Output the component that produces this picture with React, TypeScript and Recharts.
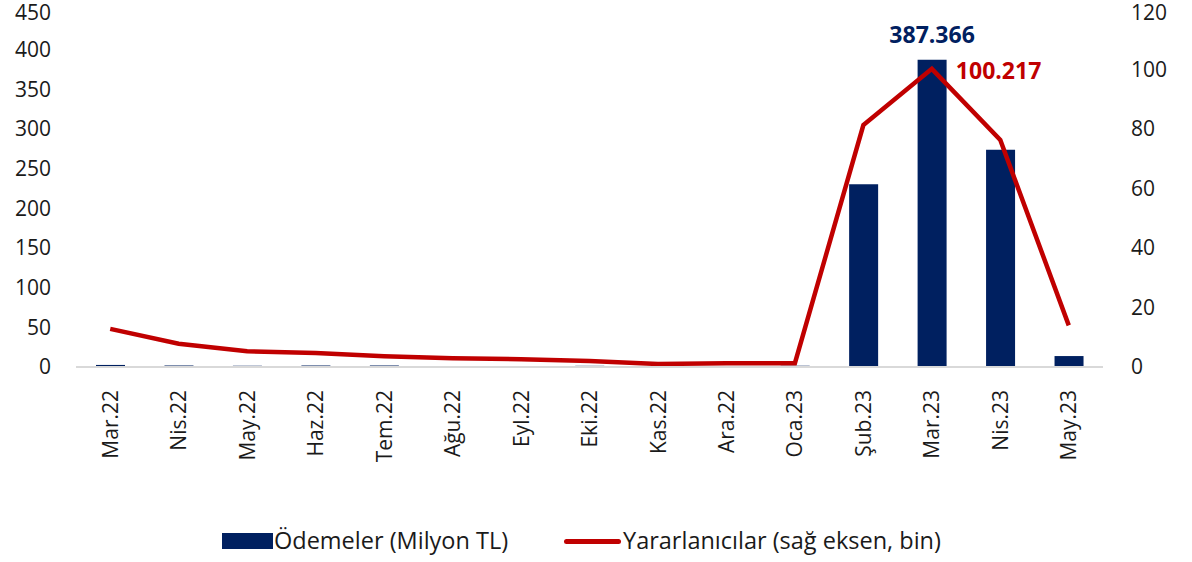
import React from "react";
import { ComposedChart, Bar, Line, XAxis, YAxis, Legend, LabelList } from "recharts";

const categories = ["Mar.22", "Nis.22", "May.22", "Haz.22", "Tem.22", "Ağu.22", "Eyl.22", "Eki.22", "Kas.22", "Ara.22", "Oca.23", "Şub.23", "Mar.23", "Nis.23", "May.23"];
const odemeler = [2.6, 1.9, 1.5, 1.9, 1.9, 1.2, 1.2, 1.5, 1.1, 1.1, 1.6, 230.5, 387.366, 273.8, 13.8];
const yararlanicilar = [12.8, 7.8, 5.3, 4.7, 3.6, 2.9, 2.6, 2.0, 1.0, 1.3, 1.3, 81.3, 100.217, 76.3, 14.0];
const leftTicks = [0, 50, 100, 150, 200, 250, 300, 350, 400, 450];
const rightTicks = [0, 20, 40, 60, 80, 100, 120];
const barLabels = ["", "", "", "", "", "", "", "", "", "", "", "", "387.366", "", ""];
const lineLabels = ["", "", "", "", "", "", "", "", "", "", "", "", "100.217", "", ""];

const data = categories.map((c, i) => ({
  name: c,
  odeme: odemeler[i],
  yarar: yararlanicilar[i],
  barLabel: barLabels[i],
  lineLabel: lineLabels[i],
}));

const FONT = "'Open Sans', sans-serif";
const NAVY = "#002060";
const RED = "#C00000";

const XTick = (props: any) => {
  const { x, y, payload } = props;
  return (
    <text
      transform={`translate(${x},${y + 15}) rotate(-90)`}
      textAnchor="end"
      dy="0.36em"
      fontFamily={FONT}
      fontSize={21}
      fill="#1a1a1a"
    >
      {payload.value}
    </text>
  );
};

const BarLabel = (props: any) => {
  const { x, y, width, value } = props;
  if (!value) return null;
  return (
    <text x={x + width / 2} y={y - 17} textAnchor="middle" fontFamily={FONT} fontSize={23} fontWeight={700} fill={NAVY}>
      {value}
    </text>
  );
};

const LineLabel = (props: any) => {
  const { x, y, value } = props;
  if (!value) return null;
  return (
    <text x={x + 24} y={y + 10} textAnchor="start" fontFamily={FONT} fontSize={23} fontWeight={700} fill={RED}>
      {value}
    </text>
  );
};

const LegendContent = () => (
  <div style={{ position: "relative", height: 50, fontFamily: FONT, fontSize: 23.5, color: "#1a1a1a" }}>
    <div style={{ position: "absolute", left: 222, top: 21, width: 51, height: 16, background: NAVY }} />
    <div style={{ position: "absolute", left: 274, top: 13, whiteSpace: "nowrap", lineHeight: "30px" }}>Ödemeler (Milyon TL)</div>
    <div style={{ position: "absolute", left: 564, top: 27, width: 57, height: 5, borderRadius: 3, background: RED }} />
    <div style={{ position: "absolute", left: 623, top: 13, whiteSpace: "nowrap", lineHeight: "30px" }}>Yararlanıcılar (sağ eksen, bin)</div>
  </div>
);

export default function App() {
  return (
    <div style={{ position: "absolute", left: 0, top: 0, width: 1192, height: 562, background: "#fff" }}>
      <ComposedChart width={1192} height={562} data={data} margin={{ top: 10, right: 0, left: 0, bottom: 0 }}>
        <XAxis
          dataKey="name"
          interval={0}
          tick={<XTick />}
          tickLine={false}
          axisLine={{ stroke: "#d9d9d9", strokeWidth: 2 }}
          height={145}
        />
        <YAxis
          yAxisId="left"
          domain={[0, 450]}
          ticks={leftTicks}
          width={76}
          axisLine={false}
          tickLine={false}
          tickMargin={19}
          tick={{ fontFamily: FONT, fontSize: 21, fill: "#1a1a1a" }}
        />
        <YAxis
          yAxisId="right"
          orientation="right"
          domain={[0, 120]}
          ticks={rightTicks}
          width={89}
          axisLine={false}
          tickLine={false}
          tickMargin={22}
          tick={{ fontFamily: FONT, fontSize: 21, fill: "#1a1a1a", textAnchor: "start" }}
        />
        <Legend verticalAlign="bottom" height={50} content={<LegendContent />} />
        <Bar yAxisId="left" dataKey="odeme" fill={NAVY} barSize={29} isAnimationActive={false}>
          <LabelList dataKey="barLabel" content={<BarLabel />} />
        </Bar>
        <Line
          yAxisId="right"
          dataKey="yarar"
          type="linear"
          stroke={RED}
          strokeWidth={4.5}
          dot={false}
          activeDot={false}
          isAnimationActive={false}
        >
          <LabelList dataKey="lineLabel" content={<LineLabel />} />
        </Line>
      </ComposedChart>
    </div>
  );
}
